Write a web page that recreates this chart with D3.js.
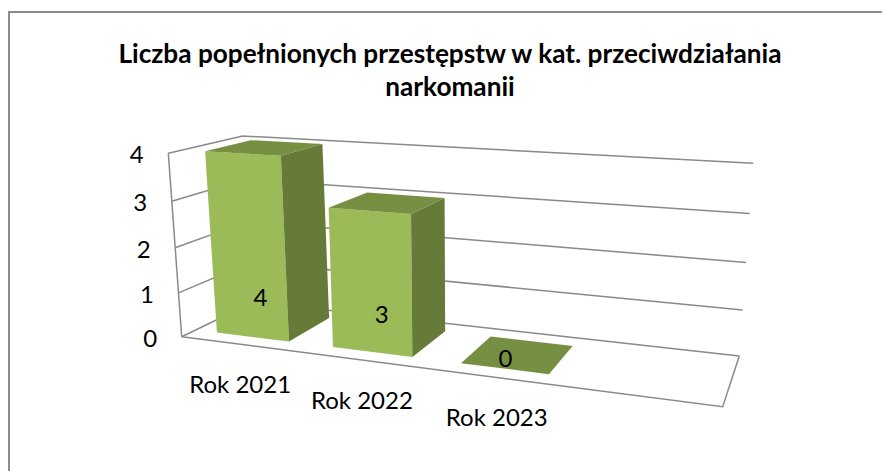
<!DOCTYPE html>
<html><head><meta charset="utf-8">
<script src="https://cdn.jsdelivr.net/npm/d3@7"></script>
<style>html,body{margin:0;background:#fff}svg{display:block}text{font-family:Lato,"Open Sans",sans-serif;fill:#000}</style>
</head><body><svg width="882" height="471"></svg>
<script>
const chartTitle = ["Liczba popełnionych przestępstw w kat. przeciwdziałania", "narkomanii"];
const categories = ["Rok 2021", "Rok 2022", "Rok 2023", ""];
const values = [4, 3, 0];
const valueTicks = [0, 1, 2, 3, 4];

// Perspective of the 3D chart box: floor homography from its four screen corners
function squareToQuad(p00, p10, p11, p01) {
  const sx = p00[0]-p10[0]+p11[0]-p01[0], sy = p00[1]-p10[1]+p11[1]-p01[1];
  const dx1 = p10[0]-p11[0], dx2 = p01[0]-p11[0], dy1 = p10[1]-p11[1], dy2 = p01[1]-p11[1];
  const det = dx1*dy2-dx2*dy1;
  const g = (sx*dy2-dx2*sy)/det, h = (dx1*sy-sx*dy1)/det;
  const a = p10[0]-p00[0]+g*p10[0], b = p01[0]-p00[0]+h*p01[0];
  const d = p10[1]-p00[1]+g*p10[1], e = p01[1]-p00[1]+h*p01[1];
  return (u, v) => { const w = g*u+h*v+1; return [(a*u+b*v+p00[0])/w, (d*u+e*v+p00[1])/w, w]; };
}
const floorPlane = squareToQuad([181.7,336.7],[722.7,406.7],[739.3,356],[253.4,302]);

const x = d3.scaleBand().domain(categories).range([0.002,1.007]).paddingInner(0.368).paddingOuter(0.184);
const depth = d3.scaleLinear().domain([0,1]).range([0.18,0.81]);
const zScale = d3.scaleLinear().domain([0,4]).range([0,1]);
const lift = s => s/(s+(1-s)*1.06);
function project(u, v, value) {
  const t = lift(zScale(value)), f = floorPlane(u,v), w = f[2];
  return [f[0]+t*(-13.4+25*u+1.4*v)/w, f[1]-t*(183.4-6.3*u+2.5*v)/w];
}
const line = d3.line();
const svg = d3.select("svg");

// chart frame: only top and left edges are in view
svg.append("path").attr("d","M9,471V12H882").attr("fill","none").attr("stroke","#8c8c8c").attr("stroke-width",2);

// title
svg.append("g").selectAll("text").data(chartTitle).join("text")
  .attr("x",450).attr("y",(d,i)=>63+i*33).attr("text-anchor","middle")
  .attr("font-size",26.2).attr("font-weight",700).text(d=>d);

// walls
const wall = svg.append("g").attr("fill","none").attr("stroke","#8a8a8a").attr("stroke-width",1.5);
valueTicks.forEach(t=>{
  wall.append("path").attr("d",line([project(0,0,t),project(0,1,t),project(1,1,t)]));
});
wall.append("path").attr("d",line([project(0,0,0),project(0,0,4)]));
wall.append("path").attr("d",line([project(0,0,0),project(1,0,0),project(1,1,0)]));

// value axis labels
svg.append("g").selectAll("text").data(valueTicks).join("text")
  .attr("x",d=>project(0,0,d)[0]-31.5).attr("y",d=>project(0,0,d)[1]+4)
  .attr("text-anchor","middle").attr("dominant-baseline","middle").attr("font-size",24).text(d=>d);

// bars
const bars = svg.append("g");
values.forEach((val,i)=>{
  const c = categories[i], u0 = x(c), u1 = u0+x.bandwidth(), v0 = depth(0), v1 = depth(1);
  const g = bars.append("g");
  if (val>0) {
    g.append("path").attr("fill","#9bbb59").attr("d",line([project(u0,v0,0),project(u1,v0,0),project(u1,v0,val),project(u0,v0,val)])+"Z");
    g.append("path").attr("fill","#677b38").attr("d",line([project(u1,v0,0),project(u1,v1,0),project(u1,v1,val),project(u1,v0,val)])+"Z");
  }
  g.append("path").attr("fill","#778f42").attr("d",line([project(u0,v0,val),project(u1,v0,val),project(u1,v1,val),project(u0,v1,val)])+"Z");
});

// data labels
const labelNudge = [[-14,-25],[-9,-22],[-13,7]];
svg.append("g").selectAll("text").data(values).join("text")
  .attr("x",(d,i)=>project(x(categories[i])+x.bandwidth()/2,0.5,0)[0]+labelNudge[i][0])
  .attr("y",(d,i)=>project(x(categories[i])+x.bandwidth()/2,0.5,0)[1]+labelNudge[i][1])
  .attr("text-anchor","middle").attr("dominant-baseline","middle").attr("font-size",24).text(d=>d);

// category labels
svg.append("g").selectAll("text").data(categories.slice(0,3)).join("text")
  .attr("x",d=>project(x(d)+x.bandwidth()/2,0,0)[0]+1)
  .attr("y",d=>project(x(d)+x.bandwidth()/2,0,0)[1]+43)
  .attr("text-anchor","middle").attr("dominant-baseline","middle").attr("font-size",24).text(d=>d);
</script></body></html>
